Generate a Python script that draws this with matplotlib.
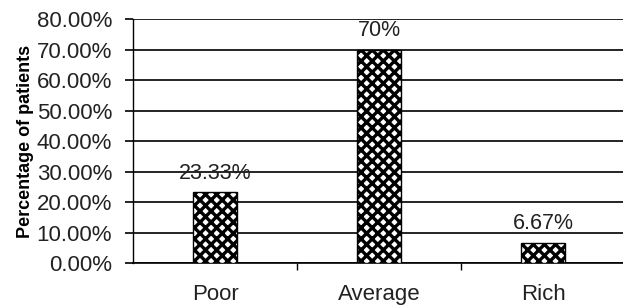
import matplotlib
matplotlib.use("Agg")
import matplotlib.pyplot as plt
from matplotlib.ticker import FuncFormatter

categories = ["Poor", "Average", "Rich"]
values = [23.33, 70.0, 6.67]
value_labels = ["23.33%", "70%", "6.67%"]
yticks = [0, 10, 20, 30, 40, 50, 60, 70, 80]

plt.rcParams['font.family'] = ['Liberation Sans', 'DejaVu Sans']
plt.rcParams['hatch.linewidth'] = 2.4
plt.rcParams['hatch.color'] = 'black'

fig = plt.figure(figsize=(6.23, 3.08), dpi=100)
ax = fig.add_axes([0.2135, 0.146, 0.79, 0.792])

x = list(range(len(categories)))
ax.bar(x, values, width=0.27, facecolor='white', edgecolor='black',
       hatch='xxx', linewidth=1.0, zorder=3)

for xi, v, lab in zip(x, values, value_labels):
    ax.annotate(lab, (xi, v), xytext=(0, 6), textcoords='offset points',
                ha='center', va='bottom', fontsize=15.5, color='#222222', zorder=4)

ax.set_xlim(-0.5, 2.5)
ax.set_ylim(0, 80)
ax.set_yticks(yticks)
ax.yaxis.set_major_formatter(FuncFormatter(lambda v, p: f"{v:.2f}%"))
ax.yaxis.grid(True, color='black', linewidth=1.2, zorder=1)
ax.set_axisbelow(True)

ax.set_xticks([0.5, 1.5])
ax.set_xticklabels([])
ax.set_xticks(x, minor=True)
ax.set_xticklabels(categories, minor=True)
ax.tick_params(axis='x', which='major', length=5, width=1.0, direction='out', color='black')
ax.tick_params(axis='x', which='minor', length=0, pad=15, labelsize=16, labelcolor='#222222')
ax.tick_params(axis='y', length=6, width=1.2, direction='out', color='black',
               labelsize=16, labelcolor='#222222', pad=9)

for s in ['top', 'right']:
    ax.spines[s].set_visible(False)
ax.spines['left'].set_linewidth(1.0)
ax.spines['bottom'].set_linewidth(1.2)

ax.set_ylabel("Percentage of patients", fontsize=13, fontweight='bold', labelpad=2)

fig.savefig("out.png", dpi=100)
